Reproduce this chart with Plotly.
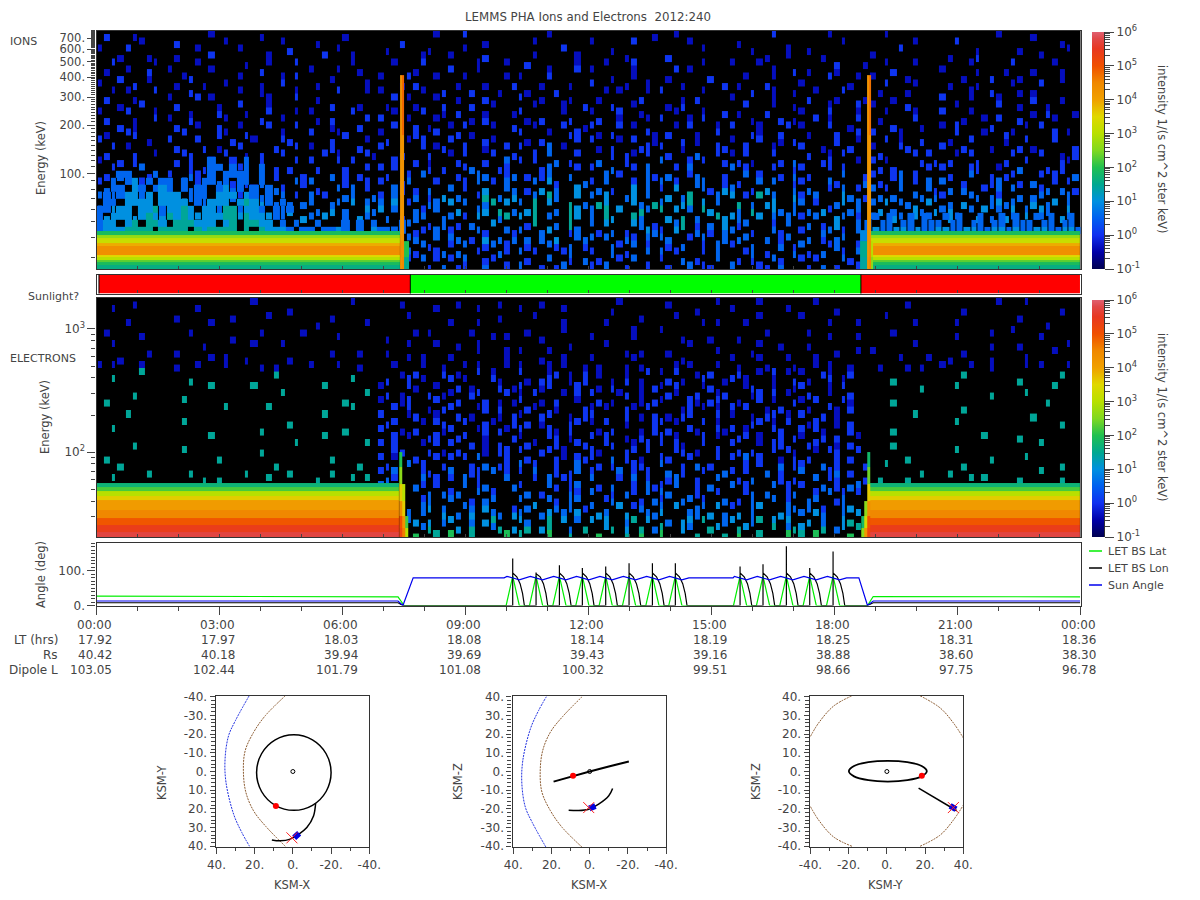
import numpy as np
import plotly.graph_objects as go

W, H = 1200, 900
FONT = "DejaVu Sans"
INK = "#444444"

# ---- time / energy grid ----------------------------------------------------
N_COLS = 140
N_ROWS = 34
COL_PITCH = [6, 8, 5, 9, 7, 6, 8, 7, 5, 9, 6, 8, 7]
TIME_EDGES = np.concatenate([[0], np.cumsum(np.resize(COL_PITCH, N_COLS))]) * 24.0 / np.sum(np.resize(COL_PITCH, N_COLS))
ION_RANGE = (25.3, 783.0)
ELE_RANGE = (20.4, 1786.0)
ION_EDGES = np.geomspace(ION_RANGE[1], ION_RANGE[0], N_ROWS + 1)
ELE_EDGES = np.geomspace(ELE_RANGE[1], ELE_RANGE[0], N_ROWS + 1)

# level character -> log10(intensity)
LEVEL = {"1": -0.35, "2": 0.05, "3": 0.55, "4": 1.0, "5": 1.45, "6": 1.95, "7": 2.6}

ION_SPECKS = [
".2...1.... ......1... ...1...... .....1.... ........1. ..2....... ....1..... .........1 ..1....... ......2... ....1..... ..1....... ........1. ...1......",
"......1... .2......1. ......1... .1........ ...2...... .....1.... ..1....... 1.....2... ....1..... .1........ ......1... ......1... ..2....... .......1..",
"1...2..... ....1..... 1......2.. ....1..... .1.....1.. ..1....... ......2... ...1...... ......1... ...1....1. .1........ ....2..... .....1.... .1......1.",
"...1...1.. .1....2... ....1..... ..2...1... ......1... 1....2.... ..1.....1. .....1.... .2........ .....1..1. ...1...... 1......... .1...2.... ....1.....",
"..2.....1. ....1..... .1..1...2. ......1... ..1...2... ....1...1. .2......1. ..1...2... ......1... 1...1..... .....2...1 ..1...1... ....1..... 2.....1...",
".1..1..2.. 1.....1... ...2...... 1...1..1.. .....1.... 2...1..... ....1...2. 1.....1... ..2.1..... ......1..2 .1...1.... ...2...... 1....1...1 ...1...1..",
"...2...1.. ..12...... 1.....1.2. ...1...... 1...2...1. ..1.....1. 1...2..... ...1..1... .1.....2.. ..1...1... ....2...1. 1....1.... ...1...2.. .1.....1..",
"1....2.... .1...1..1. ...1..2... .1......1. ...1.2.... .1...1...2 ...1...1.. 2....1..1. ...1.....2 .1...2.... 1......1.. ..2...1... .1...1.... 1...2.....",
"..1.1...2. ...2...... 1..1....1. ....2...1. 1.....1..2 ...2...1.. .1...2.... ..1.1...1. 2.....1... ...2..1..1 ..1...2... .1...1.... ....1..2.. .1.1......",
".2...1.... 1...2.1... ....1...2. .1........ ..2.1...1. .1...2.... 2..1...1.. .1.....2.. ...1.2.... 1.....1... .2...1...1 ...1...... 2...1...1. ...2...1..",
"...1..2... .2.....1.. 2...1..... ...2...1.. .1...1...2 ...2..1... ..1...1..2 ...2..1... .1.2...... ..2...1..1 ....1...2. 1....2.... ..1.....2. .1...1....",
"1...2...1. ...1...2.. .1..2...1. 1.....2... ..1...2..1 .2...1...1 2.....1... 1...2..1.. ..1...1..2 .1...2.... 1...2...1. ..1...1... 2...1..... ...1.2...1",
".2...1..2. 1..2....1. ...2..1... .1.2....2. 2...1...1. ...1.2.... .1.2...2.. .2..1...1. 2...1.2... ...1...2.1 ..2.1...2. .1....2... ...1..1.2. .2....1...",
"...2.1.... .2..1..2.. 1...2...2. ...1...2.. ..2..2.1.. 1.2...1..2 ..1...2..1 2...2.1... ..1.2...1. 2...1...2. 1...2..1.. ...2...1.. 1.2....2.. ..1.2.....",
".1..22.... ..2....21. .2....1... 2...12.... 1....2..2. .2.1...... 2...1..22. .1.2....21 .2...1..2. ...21..2.. .1...2..2. 2...1..... ..2...1..2 1.....2.1.",
"2......1.. 2...2....2 ..1...22.. ...2....1. .2..1.2... 2....21... .1.2....2. 2...1.2..1 ...2.1.... 1...2..1.2 .....2..1. ..2.1..2.. .1..2....1 ..2...2...",
"..2.1..... .2...2.1.. 2....2..2. 1..2...2.. 2.....2.12 ..2..1..2. 2...3.1... .1.2...22. 2..1....22 ..2...1... 2..1...2.. 1...22.... 2..2...1.. .2.1.....2",
".2...2..1. ..22....2. .1.2..2... ..2.1...21 ...2...2.. 1.2...2..2 ..2.3...2. ...2.21.2. .2...3..2. 1.2...2... .2..1.2... .2....2.2. ..1.2..... 2...2..1.2",
"1..2.2.... .2.2..1..2 ...2....2. 2...2.2... ..2..2.1.. .2...2..3. 2.2..3.2.. .3...2.... 3...2.2..2 .2.1...2.3 ...22...1. 2.1....2.2 .2...2...2 ..2....21.",
"..2...3... ...2.2...2 2....2.2.. .2...2..2. 2.2....2.2 ..23...22. ...23...2. 2..3..2.3. ..2.3..... 3.2...2..2 2...2.2... .2.2....2. 2...22..1. .3...2.2..",
".2.3...2.. 2..32.2... .3...2...2 ...3.2.2.. .2..2.3... .2..33..23 .2.23..3.. ..3.2...32 .3..23...2 ..3.2..2.3 .2....3..2 2..23.2... .2..3..2.2 2...2.2..3",
"2...3.2... ..3.2..3.2 .2.3....32 3....2..2. 2..23...2. ..2.3.2.3. ..3.42...3 2.3...2.3. 3.2..33..2 .2..3.3..2 2...32...3 .2..3.2.3. 3..2...23. .2.3..2.2.",
".3.2..3... 2..33..2.3 3.2..32... .2..3.3.2. ..32.2.3.. 3.2..4..33 .2.4.3..4. .3.2..4.3. 2.4...32.4 3..2.4...3 .3..2.3.2. 3.2.3...32 .3.3..2.3. 3...23.3.2",
"3.3..23... .3.3.3..23 2..33.3.2. 3.2..33..3 2.3..3.2.4 .3..25.3.4 ..3.53..4. 3.4..34.3. .4.35...3. 4.2.5.3..4 2.3...43.2 .3.3..33.3 2...33.32. .3.33...3.",
".33...34.3 3.4..3.33. ..34.3.3.3 3..33.4.3. 3.4.2..33. 4.3..35.4. 3.5.4..5.3 .54...43.5 3..45.4.3. .5.3.44..3 3.2..34.3. 3.4.33..4. .3.4...343 3..4.34.3.",
"3.43...4.3 .4.3..43.4 3.44..34.. .3.4.3..43 4.3..32.3. .4..34.5.3 .45..3.54. 3.5.4..53. 5.4.3.54.. .3.5..43.3 .3.42..33. .4.3..43.4 34..3.4.3. 4.3.43..4.",
".43..4.3.4 3..44.3.4. 4..34.3..4 3.4..3.43. .3.2.33..3 3.2.4..35. 4.5.3..54. 3.54..53.. .4.5.3..54 43..4.3.3. 2.3..43.2. 3..43.4.3. .43..4.3.4 3.4.3..43.",
".......... .......... .......... .......... ...23..2.3 .2.3..4... .25..3.5.. 3.4...43.2 ..35.2.3.4 .23...2.3. .3.2.4..3. .......... .......... ..........",
".......... .......... .......... .......... ..3..22.3. 2...32..32 3..34..23. .2.3.2..43 2.4..3.2.3 3..2..32.. 2..33.2.3. .......... .......... ..........",
".......... .......... .......... .......... .3..33..3. 33.2.4.3.3 .3.3.4..33 3.3..32.3. 33..2.3..3 .33..3.23. .3.2.33... .......... .......... ..........",
".......... .......... .......... .......... 3.2...32.. 2.3..23.2. .2..32.3.2 ...32.3.2. .2.3..2.3. 2..3...3.2 3...23..2. .......... .......... ..........",
".......... .......... .......... .......... .2..32..23 .3..2..32. 3.2...23.. 2..3.2..3. 3.2...2.3. ..23.2...3 .2.3..2.3. .......... .......... ..........",
".......... .......... .......... .......... 2...2.3.2. 2.3..22... .2..3..2.3 .2..2.3... 2..3.2..3. .2.2..32.. 2.2...32.2 .......... .......... ..........",
".......... .......... .......... .......... .3.2...2.3 .22..3..2. 3..2.23... 2.3..2..2. .2..3.22.. 3...22.3.. .2.3.2..2. .......... .......... ..........",
]

# contiguous low-energy enhancement, left part of the day (starts at row 18)
ION_BLOB = [
"................3..2.3",
"................33.3.3.3",
"...33...3.......3.3333.3",
"..3.34.3.33.3..33.3.33.3",
"..33.43.343.3.33.34.3.3.3",
".3.344.4.444..33.444.43.3",
".33.4444.4444.3.444.454.3.3",
"33.44.445.4454.44.55.443.3.3",
"3.444.454.5454.44455.544.3.",
"344.45.554.555444.45.5544.3.3..3...3.3.3...3",
"34445555.5555.545555.5.54443.33.3343.3.433.3",
]

# shelf just above the main band, right part of the day (column 110, row 26)
ION_SHELF = [
".3.3..3.3..3.3..3..3.3..3.3..3",
"3.33.33.333.33.33.33.333.33.33",
"34334434334433443344343344334434",
]

ION_BAND_E = [25.3, 26.9, 28.0, 28.8, 30.1, 30.9, 35.2, 36.8, 39.5, 41.3, 43.7]
ION_BAND_Z = [1.6, 1.9, 2.3, 3.0, 3.5, 4.35, 3.9, 3.2, 2.7, 1.9]
ION_BAND_T = [0.0, 7.40, 18.90, 24.0]

ION_SPIKE_T = [7.40, 7.45, 7.50, 7.62, 18.62, 18.79, 18.84, 18.89, 18.94]
ION_SPIKE_E = [25.3, 30.0, 38.0, 44.0, 60.0, 174.0, 412.0]
ION_SPIKE_Z = [
    [4.3, 4.5, 1.5, None, 1.4, 4.3, 4.5, 2.6],
    [4.4, 4.4, 2.0, None, 1.5, 4.2, 4.4, 3.0],
    [4.2, 4.3, None, None, 0.9, 4.3, 4.3, None],
    [4.2, 4.3, None, None, None, 4.2, 4.3, None],
    [4.2, 4.3, None, None, None, 4.2, 4.2, None],
    [4.3, 4.8, None, None, None, 4.3, 4.7, None],
]

ELE_SPECKS = [
".....1.... .......... ..1....... ......1... ...1...... .1.....1.. ...1...... ....1..... .1......1. ....1..... ..1....... .....1.... ........1. ..1.......",
"..1....... ....1..... .......1.. .......... ........1. ....1..... 1.....1... ...1...... .....1.... 1.......1. .....1.... .......... ...1...... .......1..",
".......... .1.......1 ....1..... ...1...... ....1..... .......1.. ..1....... .......1.. ..1....... ....1..... 1......... ..1....... .......... .1........",
"....1..... ......1... .......... .1......1. .......... 1...1..... ......1... ..1....... ......1.1. ..1....... ....1...1. ......1... ..1....... .....1....",
".1........ ...1...... ...1.....1 .......... .....1.1.. ...1...... .1....1... ......1... 1......... .....1.... .1........ ...1...... .......1.. 1.........",
"......1... .........1 .......... ....1..... .1........ ......1.1. ...1...... 1.....1... ...1...1.. .1........ ....1...1. .......... ..1....... ....1.....",
"..1....... .....1.... ..1...1... .......... ....1...1. .1..1..... .......1.. ..1....... ....1..... ....1..1.. .1........ ......1... .......1.. .1......1.",
".......1.. .1........ .......... ...1...1.. .1........ ....1...1. 1...1..... .....1.1.. .1......1. ...1...... .....1..1. 1......... ...1...... ......1...",
"...1...... ......1.1. .1.....1.. .......... ....1.1... 1.......1. ...1..1... 1.....1... ...1...... 1...1...1. ..1....... ....1...1. .1.....1.. ..1.......",
"1.1...1... .1..1...1. ...1.1.... 1...1..1.. ..1...1..1 ..1.1...1. 1...1.1..1 .1...1.1.. ..1.1...1. .1...1...1 ..1.1..1.. .1...1.1.. 1...1..1.. ..1.1...1.",
"......5... .......... .....5.... .......... ...1.2...2 .1..2.1... 2...12.1.2 .1...1..2. 1.2..1.2.. .2..1.2.1. 1..21..2.. .......... ...5...... .......5..",
"..5....... ...5...... .......... ......5... .2..2.1... 2.1...21.. .1.22..1.2 ...1.2.1.. .2.1..2..1 2.1...1..2 .1..2.1... ...5...... .......... .5........",
".......... ......5... ..5....... ..5....... 1...21..1. .2.1...2.1 2..12...2. .1.2...1.2 1.2...12.. ..12..1..1 2...1.2... .......5.. ..5....... ......5...",
".....5.... .......... ......5... ........5. .2.1...2.1 1..22...2. 1.2...1.2. 2...12.1.. .21..2..12 ...12.2.1. .2..1..2.. .......... .......5.. ..5.......",
".5........ ..5....... .......... .....5.... 1..12...2. .2...2.1.1 2..1.2..1. .2.1...1.2 1...21.22. .1..2.1..2 1.2...21.. ...5...... .......... .....5....",
".......... ........5. ....5..... ......5... ..2.2..1.2 2...12.2.. .21..1...2 1.1..21.2. ...12.1.1. 2.2..1.2.. .1..21.2.. .......... ...5...... ..........",
"....5..... .......... .......... ..5....... 2...12..1. .2.1...1.2 1..22..1.2 2....2.1.2 .1.22...2. 1..1.22.1. 2..2.1.... ......5... .......... ...5......",
".......... ..5....... .......5.. .......... .22...1.22 ..2..21..2 .2.1...22. 1.2..1...2 2.1...2.1. ...22.1.2. .12..1.2.. .......... ..5....... .......5..",
"..5....... .......... ...5...... .....5.... 2..1.2...1 2...12.21. 2...21.2.. .1.2...1.2 .2..21..21 2.1...22.. 2.21...2.. ...5...... .......... ..........",
".......... ......5... .......... ..5....... ..2.1..22. .22..1...2 1...22.1.. 2.2..1.2.. 2.1...2.1. .22.1..2.2 1..2.2..1. .......... ......5... .5........",
".....5.... .......... ........5. ........5. 2.2...1.2. 2..2.1.2.. .21..2..22 ..22..1.2. 2.21..2... 2...1.22.. .22..1.2.. ...5...... .......... ....5.....",
".......... ..5....... ...5...... .......... ..22...2.1 .2...1.22. 2..22.1... 21...22.2. ..22.1..2. .2.2..2.21 ..1.22..2. .......... ..5....... ..........",
".5........ .......5.. .......... ...5...... 2.1..2..2. 2.2.3...2. .2...21.22 2..3.2.1.. 22..2...2. 2.3.2..1.2 .2...2.2.. .....5.... .......5.. ..5.......",
"...5...... .......... .....5.... .......5.. .2..3.2..2 ...2.3.22. 3.2..2..3. .2.2..22.. 3..2.3.2.. ..2.2..3.2 2..3.2...2 ..5....... ...5...... .......5..",
".......5.. ...5...... .5.....5.. ...5...... 2.3...22.. 3..22.3.2. 2.3..2.23. 2...3.2.2. .3.2..2..3 2.2..3.2.. 3...23.2.. .......5.. .5........ ....5.....",
"..5....... .....5.5.. ....5..... .5....5.5. .32...3.2. 2.3.2...3. ..2.3.22.. 3...2.3.2. .23..2..3. .2.3...2.2 ..3.22...2 .5...5.... ....5.5... .5.....5..",
".......... .......... .......... .......... 3..2.32.2. ..3.23...3 2...32.23. .2.3..2.32 2.3..2.3.. 3.2...3.2. 2..3.2.33. .......... .......... ..........",
".......... .......... .......... .......... .2.3...3.3 23..3.2... .3.2...32. 3..2.32.3. 33...2..2. ..23.3..23 ..2.3.2.2. .......... .......... ..........",
".......... .......... .......... .......... 2.33..23.. 3..2.33... 3...32.33. ..23...2.3 2..33.2..3 .2.3..3.2. .33..23... .......... .......... ..........",
".......... .......... .......... .......... .3.2..34.3 ..33.4...2 .34..3.3.2 3...4.23.. 3.4..33.4. 2..34...33 .3.2..34.. .......... .......... ..........",
".......... .......... .......... .......... 34..3.3..4 .3.4..33.4 3..34.3.4. .43..4..33 4...33.4.3 .4.3...43. 3.43..3.4. .......... .......... ..........",
".......... .......... .......... .......... .4..34.4.3 4..3.45... 43..5.4.3. 4.4..35.4. .3.44.5..3 4..35.4.4. .4.3..45.. .......... .......... ..........",
".......... .......... .......... .......... 45.4..35.. .4.5..35.4 .5.45..3.5 ..45.4.5.3 5..43..54. .54...5.35 4..5.34.5. .......... .......... ..........",
".......... .......... .......... .......... .6...6..5. 6..5....6. 5...6..5.. .6...5.6.. 6....5...5 .6..5...6. 5.6....6.. .......... .......... ..........",
]

ELE_BAND_E = [20.4, 22.4, 25.5, 29.1, 33.8, 40.7, 43.9, 48.2, 51.9, 56.0]
ELE_BAND_Z = [5.75, 5.4, 4.95, 4.5, 4.1, 3.6, 3.0, 2.2, 1.7]
ELE_BAND_T = [0.0, 7.38, 18.88, 24.0]

ELE_SPIKE_T = [7.38, 7.45, 7.52, 7.60, 18.65, 18.72, 18.80, 18.88]
ELE_SPIKE_E = [20.4, 24.0, 30.0, 40.0, 55.0, 75.0, 100.0]
ELE_SPIKE_Z = [
    [5.2, 4.6, 3.0, None, 2.6, 4.2, 5.2],
    [5.0, 4.3, 2.2, None, 1.8, 3.3, 5.0],
    [4.4, 3.6, None, None, None, 2.6, 4.4],
    [3.6, 3.0, None, None, None, None, 3.6],
    [2.6, None, None, None, None, None, 2.4],
    [2.0, None, None, None, None, None, 1.8],
]

SUN_EDGES = [0.05, 7.65, 18.65, 24.0]
SUN_STATE = [0, 1, 0]

LAT_H = [0, 4.8, 4.82, 7.35, 7.5, 9.99, 10.15, 10.31, 10.56, 10.72, 10.88, 11.13, 11.29, 11.45,
         11.69, 11.85, 12.01, 12.26, 12.42, 12.58, 12.83, 12.99, 13.15, 13.40, 13.56, 13.72,
         13.96, 14.12, 14.28, 15.54, 15.70, 15.86, 16.10, 16.26, 16.42, 16.67, 16.83, 16.99,
         17.24, 17.40, 17.56, 17.81, 17.97, 18.13, 18.81, 18.95, 24]
LAT_V = [27, 27, 25, 25, 0, 0, 85, 0, 0, 85, 0, 0, 85, 0,
         0, 85, 0, 0, 85, 0, 0, 85, 0, 0, 85, 0,
         0, 85, 0, 0, 85, 0, 0, 85, 0, 0, 85, 0,
         0, 85, 0, 0, 85, 0, 0, 26, 25]

LON_H = [0, 7.35, 7.47, 10.15, 10.15, 10.15, 10.25, 10.33, 10.39, 10.435,
         10.72, 10.72, 10.72, 10.82, 10.90, 10.96, 11.005,
         11.29, 11.29, 11.29, 11.39, 11.47, 11.53, 11.575,
         11.85, 11.85, 11.85, 11.95, 12.03, 12.09, 12.135,
         12.42, 12.42, 12.42, 12.52, 12.60, 12.66, 12.705,
         12.99, 12.99, 12.99, 13.09, 13.17, 13.23, 13.275,
         13.56, 13.56, 13.56, 13.66, 13.74, 13.80, 13.845,
         14.12, 14.12, 14.12, 14.22, 14.30, 14.36, 14.405,
         15.70, 15.70, 15.70, 15.80, 15.88, 15.94, 15.985,
         16.26, 16.26, 16.26, 16.36, 16.44, 16.50, 16.545,
         16.83, 16.83, 16.83, 16.93, 17.01, 17.07, 17.115,
         17.40, 17.40, 17.40, 17.50, 17.58, 17.64, 17.685,
         17.97, 17.97, 17.97, 18.07, 18.15, 18.21, 18.255,
         18.81, 18.95, 24]
LON_V = [8, 8, 0, 0, 136, 94, 83, 63, 35, 0,
         0, 95, 92, 83, 63, 35, 0,
         0, 116, 94, 83, 63, 35, 0,
         0, 108, 94, 83, 63, 35, 0,
         0, 113, 94, 83, 63, 35, 0,
         0, 122, 94, 83, 63, 35, 0,
         0, 122, 94, 83, 63, 35, 0,
         0, 122, 94, 83, 63, 35, 0,
         0, 113, 94, 83, 63, 35, 0,
         0, 119, 94, 83, 63, 35, 0,
         0, 171, 94, 83, 63, 35, 0,
         0, 108, 94, 83, 63, 35, 0,
         0, 156, 94, 83, 63, 35, 0,
         0, 8, 8]

SUN_H = [0, 7.35, 7.47, 7.72, 9.94, 10.01, 10.20, 10.31, 10.58, 10.77, 10.88, 11.15, 11.34, 11.45,
         11.71, 11.90, 12.01, 12.28, 12.47, 12.58, 12.85, 13.04, 13.15, 13.42, 13.61, 13.72,
         13.98, 14.17, 14.28, 14.45, 15.53, 15.56, 15.75, 15.86, 16.12, 16.31, 16.42, 16.69,
         16.88, 16.99, 17.26, 17.45, 17.56, 17.83, 18.02, 18.13, 18.30, 18.60, 18.81, 18.95, 24]
SUN_V = [13, 13, 0, 80, 80, 84, 78, 74, 84, 78, 74, 84, 78, 74,
         84, 78, 74, 84, 78, 74, 84, 78, 74, 84, 78, 74,
         84, 78, 74, 80, 80, 84, 78, 74, 84, 78, 74, 84,
         78, 74, 84, 78, 74, 84, 78, 74, 80, 80, 0, 13, 13]

TICK_TIME = ["00:00", "03:00", "06:00", "09:00", "12:00", "15:00", "18:00", "21:00", "00:00"]
TICK_LT = ["17.92", "17.97", "18.03", "18.08", "18.14", "18.19", "18.25", "18.31", "18.36"]
TICK_RS = ["40.42", "40.18", "39.94", "39.69", "39.43", "39.16", "38.88", "38.60", "38.30"]
TICK_L = ["103.05", "102.44", "101.79", "101.08", "100.32", "99.51", "98.66", "97.75", "96.78"]
TICK_HOURS = [0, 3, 6, 9, 12, 15, 18, 21, 24]
HOURS = list(range(25))

# orbit views
SHOCK_X = [22.9, 30.2, 33.7, 35.5, 35.0, 31.0, 26.7, 22.7]
SHOCK_R = [-40.5, -27.0, -19.0, -6.6, 5.9, 22.9, 32.7, 40.0]
PAUSE_X = [4.0, 14.5, 20.6, 25.0, 25.9, 24.6, 20.6, 14.5, 4.0]
PAUSE_R = [-40.5, -29.8, -20.9, -11.0, 0.0, 11.2, 21.0, 29.0, 40.0]

XY_ORBIT_X = [19, 16.4, 9.25, -0.5, -10.25, -17.4, -20, -17.4, -10.25, -0.5, 9.25, 16.4, 19]
XY_ORBIT_Y = [0.6, 10.7, 18.1, 20.8, 18.1, 10.7, 0.6, -9.5, -16.9, -19.6, -16.9, -9.5, 0.6]
XY_TRAJ_X = [-11.9, -10.8, -7.3, -3.0, 1.4, 6.6, 11.0]
XY_TRAJ_Y = [17.0, 23.8, 30.0, 33.6, 36.2, 37.1, 36.6]
XY_NOW_X = [-3.3, -0.7]
XY_NOW_Y = [33.0, 35.4]
XY_DOT = (8.9, 18.4)
XY_CROSS = (0.5, 35.5)

XZ_ORBIT_X = [18.9, 8.7, 0, -10, -20.5]
XZ_ORBIT_Z = [-5.4, -2.3, 0, 2.7, 5.4]
XZ_TRAJ_X = [-12.0, -10.0, -4.7, 0.5, 5.8, 11.0]
XZ_TRAJ_Z = [-9.1, -13.0, -17.5, -20.2, -20.9, -20.7]
XZ_NOW_X = [-3.0, 0.2]
XZ_NOW_Z = [-18.4, -19.8]
XZ_DOT = (8.7, -2.3)
XZ_CROSS = (0.5, -19.3)

YZ_ORBIT_Y = [20.9, 18.2, 10.7, 0.5, -9.7, -17.2, -19.9, -17.2, -9.7, 0.5, 10.7, 18.2, 20.9]
YZ_ORBIT_Z = [0.15, 2.9, 4.96, 5.7, 4.96, 2.9, 0.15, -2.6, -4.66, -5.4, -4.66, -2.6, 0.15]
YZ_TRAJ_Y = [16.6, 36.6]
YZ_TRAJ_Z = [-8.9, -21.0]
YZ_NOW_Y = [33.1, 36.2]
YZ_NOW_Z = [-18.4, -20.2]
YZ_DOT = (18.3, -2.3)
YZ_CROSS = (34.8, -19.3)
YZ_ARC_A_Y = [-40, -35.7, -27.9, -18.3]
YZ_ARC_A_Z = [18.8, 26, 35, 40.5]
YZ_ARC_B_Y = [17.4, 27.9, 34.8, 40]
YZ_ARC_B_Z = [40.5, 34, 26, 18]
YZ_ARC_C_Y = [-40, -35.7, -27.9, -18.3]
YZ_ARC_C_Z = [-18.8, -26, -35, -40]
YZ_ARC_D_Y = [17.4, 27.9, 34.8, 40]
YZ_ARC_D_Z = [-40, -34, -26, -18]

COLORSCALE_LOG = [-1, -0.5, 0, 0.5, 1, 1.5, 2, 2.5, 3, 3.5, 4, 4.5, 5, 5.5, 5.8, 6]
COLORSCALE_RGB = ["#000050", "#0000a8", "#1030f0", "#0060f0", "#0090e0", "#00a890", "#20c050",
                  "#80d820", "#b8e000", "#e0d800", "#f0a000", "#f08800", "#f05000", "#e83820",
                  "#e04848", "#e06070"]
COLORSCALE = [[(v + 1) / 7, c] for v, c in zip(COLORSCALE_LOG, COLORSCALE_RGB)]


def xdom(a, b):
    return [a / W, b / W]


def ydom(top, bot):
    return [1 - bot / H, 1 - top / H]


fig = go.Figure()


def block(rows, col0, row0, edges, xa, ya, ca, gap=0, stagger=False):
    rows = [r.replace(" ", "") for r in rows]
    n = max(len(r) for r in rows)
    z = [[LEVEL.get(c) for c in r.ljust(n, ".")] for r in rows][::-1]
    y = np.array(edges[row0:row0 + len(rows) + 1][::-1])
    x = TIME_EDGES[col0:col0 + n + 1]
    if not stagger:
        fig.add_trace(go.Heatmap(z=z, x=x, y=y, xaxis=xa, yaxis=ya, coloraxis=ca, xgap=gap, hoverinfo="skip"))
        return
    # every second column is drawn half a row lower so the cells do not form a visible lattice
    half = np.sqrt(y[1] / y[0])
    z_a = [[v if i % 2 == 0 else None for i, v in enumerate(r)] for r in z]
    z_b = [[v if i % 2 == 1 else None for i, v in enumerate(r)] for r in z]
    fig.add_trace(go.Heatmap(z=z_a, x=x, y=y, xaxis=xa, yaxis=ya, coloraxis=ca, xgap=gap, hoverinfo="skip"))
    fig.add_trace(go.Heatmap(z=z_b, x=x, y=y / half, xaxis=xa, yaxis=ya, coloraxis=ca, xgap=gap, hoverinfo="skip"))


def grid(x, y, z, xa, ya, ca):
    fig.add_trace(go.Heatmap(z=z, x=x, y=y, xaxis=xa, yaxis=ya, coloraxis=ca, hoverinfo="skip"))


block(ION_SPECKS, 0, 0, ION_EDGES, "x", "y", "coloraxis", gap=2, stagger=True)
block(ION_BLOB, 0, 18, ION_EDGES, "x", "y", "coloraxis", gap=0)
block(ION_SHELF, 110, 26, ION_EDGES, "x", "y", "coloraxis", gap=1)
grid(ION_BAND_T, ION_BAND_E, [[v, None, v] for v in ION_BAND_Z], "x", "y", "coloraxis")
grid(ION_SPIKE_T, ION_SPIKE_E, ION_SPIKE_Z, "x", "y", "coloraxis")

fig.add_trace(go.Heatmap(z=[SUN_STATE], x=SUN_EDGES, y=[0, 1], xaxis="x2", yaxis="y2",
                         zmin=0, zmax=1, colorscale=[[0, "#ff0000"], [1, "#00ff00"]],
                         showscale=False, hoverinfo="skip"))

block(ELE_SPECKS, 0, 0, ELE_EDGES, "x3", "y3", "coloraxis2", gap=2, stagger=True)
grid(ELE_BAND_T, ELE_BAND_E, [[v, None, v] for v in ELE_BAND_Z], "x3", "y3", "coloraxis2")
grid(ELE_SPIKE_T, ELE_SPIKE_E, ELE_SPIKE_Z, "x3", "y3", "coloraxis2")


def line(x, y, xa, ya, color, width=1.2, dash="solid", name=None, smooth=False):
    fig.add_trace(go.Scatter(x=x, y=y, xaxis=xa, yaxis=ya, mode="lines", name=name,
                             line=dict(color=color, width=width, dash=dash,
                                       shape="spline" if smooth else "linear", smoothing=1.0),
                             hoverinfo="skip"))


line(LAT_H, LAT_V, "x4", "y4", "#00ee00", name="LET BS Lat")
line(LON_H, LON_V, "x4", "y4", "#000000", name="LET BS Lon")
line(SUN_H, SUN_V, "x4", "y4", "#0000ee", name="Sun Angle")


def marks(p, color, symbol, size, xa, ya, lw=0):
    fig.add_trace(go.Scatter(x=[p[0]], y=[p[1]], xaxis=xa, yaxis=ya, mode="markers", hoverinfo="skip",
                             marker=dict(color=color, symbol=symbol, size=size,
                                         line=dict(width=lw, color=color))))


BROWN = "#8a5a30"
DOTS = "2px,1px"
# X-Y view
line(SHOCK_X, SHOCK_R, "x5", "y5", "#2030e0", 1, DOTS, smooth=True)
line(PAUSE_X, PAUSE_R, "x5", "y5", BROWN, 1, DOTS, smooth=True)
line(XY_ORBIT_X, XY_ORBIT_Y, "x5", "y5", "#000000", 1.5, smooth=True)
line(XY_TRAJ_X, XY_TRAJ_Y, "x5", "y5", "#000000", 1.5, smooth=True)
line(XY_NOW_X, XY_NOW_Y, "x5", "y5", "#0000e0", 6)
marks(XY_DOT, "#ff0000", "circle", 6, "x5", "y5")
marks(XY_CROSS, "#ff2020", "x-thin", 11, "x5", "y5", 1)
marks((0, 0), "#000000", "circle-open", 4, "x5", "y5", 1)
# X-Z view (same boundary curves)
line(SHOCK_X, SHOCK_R, "x6", "y6", "#2030e0", 1, DOTS, smooth=True)
line(PAUSE_X, PAUSE_R, "x6", "y6", BROWN, 1, DOTS, smooth=True)
line(XZ_ORBIT_X, XZ_ORBIT_Z, "x6", "y6", "#000000", 2)
line(XZ_TRAJ_X, XZ_TRAJ_Z, "x6", "y6", "#000000", 1.5, smooth=True)
line(XZ_NOW_X, XZ_NOW_Z, "x6", "y6", "#0000e0", 6)
marks(XZ_DOT, "#ff0000", "circle", 6, "x6", "y6")
marks(XZ_CROSS, "#ff2020", "x-thin", 11, "x6", "y6", 1)
marks((0, 0), "#000000", "circle-open", 4, "x6", "y6", 1)
# Y-Z view
for ax, az in ((YZ_ARC_A_Y, YZ_ARC_A_Z), (YZ_ARC_B_Y, YZ_ARC_B_Z), (YZ_ARC_C_Y, YZ_ARC_C_Z), (YZ_ARC_D_Y, YZ_ARC_D_Z)):
    line(ax, az, "x7", "y7", BROWN, 1, DOTS, smooth=True)
line(YZ_ORBIT_Y, YZ_ORBIT_Z, "x7", "y7", "#000000", 1.8, smooth=True)
line(YZ_TRAJ_Y, YZ_TRAJ_Z, "x7", "y7", "#000000", 1.5)
line(YZ_NOW_Y, YZ_NOW_Z, "x7", "y7", "#0000e0", 6)
marks(YZ_DOT, "#ff0000", "circle", 6, "x7", "y7")
marks(YZ_CROSS, "#ff2020", "x-thin", 11, "x7", "y7", 1)
marks((0, 0), "#000000", "circle-open", 4, "x7", "y7", 1)

# empty traces that carry the colour-bar tick axes
for xa, ya in (("x8", "y8"), ("x9", "y9")):
    fig.add_trace(go.Scatter(x=[None], y=[None], xaxis=xa, yaxis=ya, mode="lines", hoverinfo="skip"))

FRAME = dict(showline=True, linecolor="#333333", linewidth=1.2, mirror=True, showgrid=False,
             zeroline=False, tickcolor="#444444", tickfont=dict(family=FONT, size=12, color=INK))


def time_axis(dom, anchor, outside=False):
    minor = dict(tickvals=HOURS, ticks="outside", ticklen=4, tickcolor="#444444", showgrid=False) if outside else None
    d = dict(FRAME, domain=dom, anchor=anchor, range=[-0.01, 24.01], showticklabels=False,
             tickmode="array")
    if outside:
        d.update(tickvals=TICK_HOURS, ticks="outside", ticklen=8, minor=minor)
    else:
        d.update(tickvals=HOURS, ticks="inside", ticklen=3)
    return d


PX_L, PX_R = 96.5, 1080.5
X_DOM = xdom(PX_L, PX_R)

ION_TICKS = [100, 200, 300, 400, 500, 600, 700]
ION_TICK_TEXT = ["100.", "200.", "300.", "400.", "500.", "600.", "700."]
ION_MINOR = [30, 40, 50, 60, 70, 80, 90, 110, 120, 130, 140, 150, 160, 170, 180, 190] + list(range(210, 790, 10))
ELE_TICKS = [100, 1000]
ELE_TICK_TEXT = ["10<sup>2</sup>", "10<sup>3</sup>"]
ELE_MINOR = [30, 40, 50, 60, 70, 80, 90, 200, 300, 400, 500, 600, 700, 800, 900]
CB_TICKS = [0.1, 1, 10, 100, 1000, 10000, 100000, 1000000]
CB_TEXT = ["10<sup>-1</sup>", "10<sup>0</sup>", "10<sup>1</sup>", "10<sup>2</sup>",
           "10<sup>3</sup>", "10<sup>4</sup>", "10<sup>5</sup>", "10<sup>6</sup>"]
CB_MINOR = [m * d for d in CB_TICKS[:-1] for m in (2, 3, 4, 5, 6, 7, 8, 9)]

layout = dict(
    width=W, height=H, autosize=False, margin=dict(l=0, r=0, t=0, b=0, pad=0, autoexpand=False),
    paper_bgcolor="white", plot_bgcolor="white", showlegend=False,
    font=dict(family=FONT, size=12, color=INK),
    xaxis=time_axis(X_DOM, "y"),
    xaxis2=time_axis(X_DOM, "y2"),
    xaxis3=time_axis(X_DOM, "y3"),
    xaxis4=time_axis(X_DOM, "y4", outside=True),
    yaxis=dict(FRAME, domain=ydom(30.5, 269), anchor="x", type="log",
               range=[np.log10(ION_RANGE[0]), np.log10(ION_RANGE[1])],
               tickmode="array", tickvals=ION_TICKS, ticktext=ION_TICK_TEXT, ticks="outside", ticklen=8,
               tickfont=dict(family=FONT, size=11.5, color=INK),
               minor=dict(tickvals=ION_MINOR, ticks="outside", ticklen=4, tickcolor="#444444")),
    yaxis2=dict(FRAME, domain=ydom(274.5, 293.5), anchor="x2", range=[0, 1], showticklabels=False, ticks=""),
    yaxis3=dict(FRAME, domain=ydom(298, 537), anchor="x3", type="log",
                range=[np.log10(ELE_RANGE[0]), np.log10(ELE_RANGE[1])],
                tickmode="array", tickvals=ELE_TICKS, ticktext=ELE_TICK_TEXT, ticks="outside", ticklen=8,
                minor=dict(tickvals=ELE_MINOR, ticks="outside", ticklen=4, tickcolor="#444444")),
    yaxis4=dict(FRAME, domain=ydom(542.5, 605.5), anchor="x4", range=[0, 182],
                tickmode="array", tickvals=[0, 100], ticktext=["0.", "100."], ticks="outside", ticklen=8,
                minor=dict(dtick=10, ticks="outside", ticklen=4, tickcolor="#444444")),
    coloraxis=dict(cmin=-1, cmax=6, colorscale=COLORSCALE,
                   colorbar=dict(x=1092 / W, xanchor="left", y=1 - 269 / H, yanchor="bottom",
                                 len=(269 - 32) / H, thickness=12, outlinewidth=0, xpad=0, ypad=0,
                                 ticks="", showticklabels=False)),
    coloraxis2=dict(cmin=-1, cmax=6, colorscale=COLORSCALE,
                    colorbar=dict(x=1092 / W, xanchor="left", y=1 - 537 / H, yanchor="bottom",
                                  len=(537 - 300) / H, thickness=12, outlinewidth=0, xpad=0, ypad=0,
                                  ticks="", showticklabels=False)),
)

KSM_TICK_POS = [40, 20, 0, -20, -40]
KSM_TICK_TEXT = ["40.", "20.", "0.", "-20.", "-40."]
KSM_Y_POS = [-40, -30, -20, -10, 0, 10, 20, 30, 40]
KSM_Y_NEG = ["-40.", "-30.", "-20.", "-10.", "0.", "10.", "20.", "30.", "40."]
KSM_Z_TXT = ["40.", "30.", "20.", "10.", "0.", "-10.", "-20.", "-30.", "-40."]
KSM_Z_POS = [40, 30, 20, 10, 0, -10, -20, -30, -40]
SMALL = list(range(-40, 42, 2))
MID = [-30, -10, 10, 30]


def ksm_axes(i, left, xpos, xtxt, xrange, ypos, ytxt, yrange):
    right = left + 153.6
    layout[f"xaxis{i}"] = dict(FRAME, domain=xdom(left, right), anchor=f"y{i}", range=xrange,
                               tickmode="array", tickvals=xpos, ticktext=xtxt, ticks="outside", ticklen=6,
                               minor=dict(tickvals=MID, ticks="outside", ticklen=3, tickcolor="#444444"))
    layout[f"yaxis{i}"] = dict(FRAME, domain=ydom(696, 847), anchor=f"x{i}", range=yrange,
                               tickmode="array", tickvals=ypos, ticktext=ytxt, ticks="outside", ticklen=5,
                               minor=dict(tickvals=SMALL, ticks="outside", ticklen=4, tickcolor="#444444"))


ksm_axes(5, 215.7, KSM_TICK_POS, KSM_TICK_TEXT, [40.4, -40.0], KSM_Y_POS, KSM_Y_NEG, [40.4, -40.4])
ksm_axes(6, 512.5, KSM_TICK_POS, KSM_TICK_TEXT, [40.4, -40.0], KSM_Z_POS, KSM_Z_TXT, [-40.4, 40.4])
ksm_axes(7, 809.7, KSM_TICK_POS[::-1], KSM_TICK_TEXT[::-1], [-40.4, 40.0], KSM_Z_POS, KSM_Z_TXT, [-40.4, 40.4])

for i, (top, bot) in zip((8, 9), ((32, 269), (300, 537))):
    layout[f"xaxis{i}"] = dict(domain=xdom(1092, 1104), anchor=f"y{i}", visible=False, range=[0, 1])
    layout[f"yaxis{i}"] = dict(domain=ydom(top, bot), anchor=f"x{i}", side="right", type="log", range=[-1, 6],
                               showgrid=False, zeroline=False, showline=True, linecolor="#333333", linewidth=1.2,
                               tickmode="array", tickvals=CB_TICKS, ticktext=CB_TEXT, ticks="outside", ticklen=9,
                               tickcolor="#444444", tickfont=dict(family=FONT, size=12, color=INK),
                               minor=dict(tickvals=CB_MINOR, ticks="outside", ticklen=5, tickcolor="#444444"))

fig.update_layout(**layout)

# black field behind the spectrograms
for xn, yn in (("x", "y"), ("x3", "y3")):
    fig.add_shape(type="rect", xref=f"{xn} domain", yref=f"{yn} domain", x0=0, x1=1, y0=0, y1=1,
                  fillcolor="black", line_width=0, layer="below")
# day/night boundaries on the sunlight strip
for e in SUN_EDGES[:-1]:
    fig.add_shape(type="line", xref="x2", yref="y2 domain", x0=e, x1=e, y0=0, y1=1,
                  line=dict(color="black", width=1))


def text(t, px, py, anchor="left", angle=0, size=11.5, color=INK):
    fig.add_annotation(text=t, x=px / W, y=1 - py / H, xref="paper", yref="paper", showarrow=False,
                       xanchor=anchor, yanchor="middle", textangle=angle,
                       font=dict(family=FONT, size=size, color=color))


text("LEMMS PHA Ions and Electrons  2012:240", 588, 17, "center", size=11.8)
text("IONS", 8, 41, size=11)
text("ELECTRONS", 8, 359, size=11)
text("Sunlight?", 81, 296, "right", size=11)
text("Energy (keV)", 41, 158, "center", -90)
text("Energy (keV)", 45, 417, "center", -90)
text("Angle (deg)", 41, 575, "center", -90)
text("intensity 1/(s cm^2 ster keV)", 1162, 149, "center", 90)
text("intensity 1/(s cm^2 ster keV)", 1162, 417, "center", 90)
text("LT (hrs)", 59.5, 639.5, "right", size=12)
text("Rs", 59.5, 654.5, "right", size=12)
text("Dipole L", 59.5, 669.5, "right", size=12)
text("KSM-X", 292, 885, "center", size=11.5)
text("KSM-X", 589, 885, "center", size=11.5)
text("KSM-Y", 886, 885, "center", size=11.5)
text("KSM-Y", 162, 782, "center", -90)
text("KSM-Z", 458, 782, "center", -90)
text("KSM-Z", 756, 782, "center", -90)

for h, a, b, c, d in zip(TICK_HOURS, TICK_TIME, TICK_LT, TICK_RS, TICK_L):
    px = PX_L + (PX_R - PX_L) * h / 24 + 17
    for s, py in zip((a, b, c, d), (624.7, 639.5, 654.5, 669.5)):
        text(s, px, py, "right", size=12)

# legend of the angle panel
for name, col, py in (("LET BS Lat", "#00ee00", 551), ("LET BS Lon", "#000000", 568), ("Sun Angle", "#0000ee", 585)):
    fig.add_shape(type="line", xref="paper", yref="paper", x0=1089 / W, x1=1102 / W, y0=1 - py / H, y1=1 - py / H,
                  line=dict(color=col, width=1.5))
    text(name, 1106, py, size=11)

fig.write_html("out.html", config={"displayModeBar": False}, post_script="document.body.style.margin='0';")
